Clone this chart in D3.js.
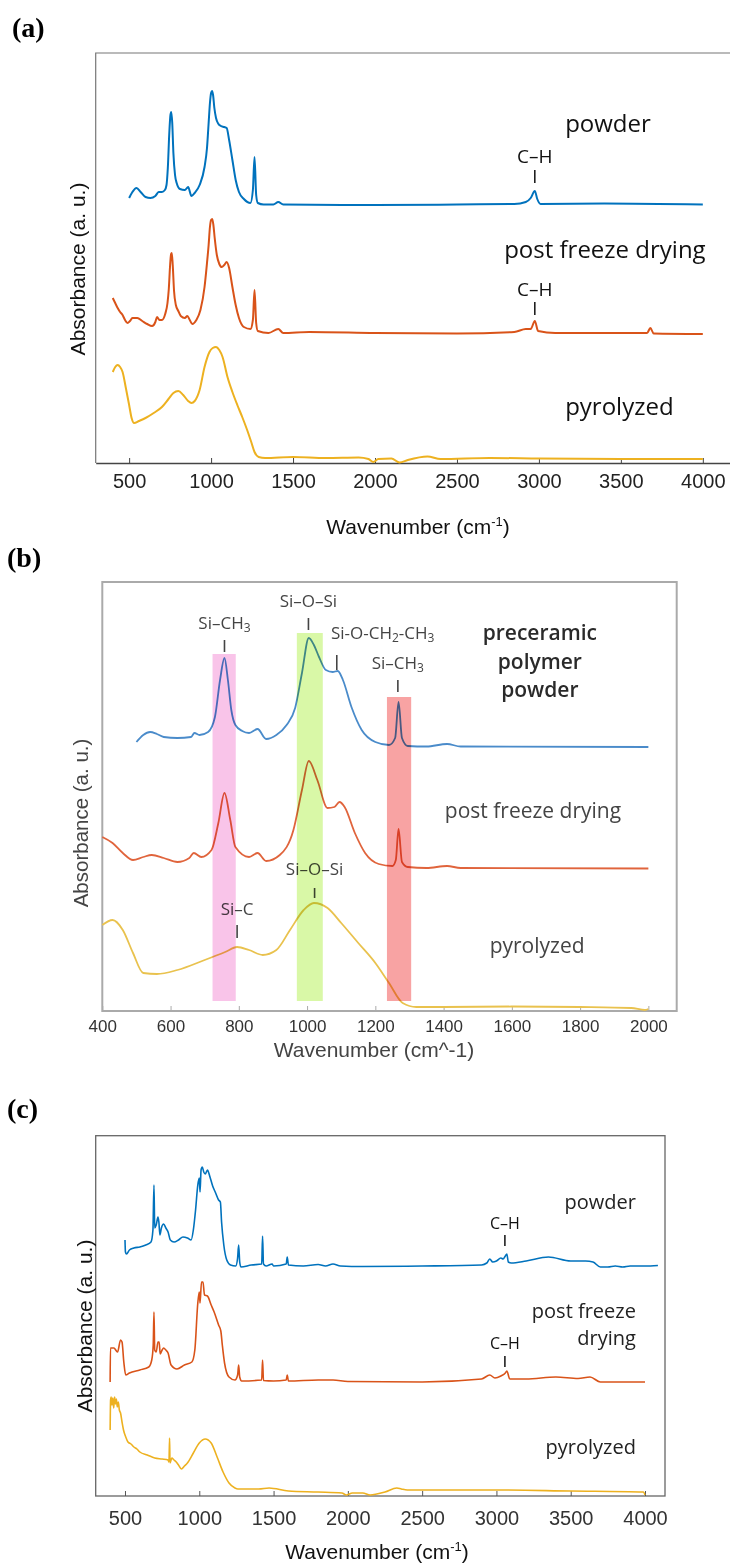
<!DOCTYPE html>
<html>
<head>
<meta charset="utf-8">
<script src="https://cdn.jsdelivr.net/npm/d3@7"></script>
<style>
  html, body { margin: 0; padding: 0; background: #fff; }
  svg { display: block; }
</style>
</head>
<body>
<div id="chart"></div>
<script>
// ===================== DATA (wavenumber cm-1, stacked absorbance a.u.) =====================

// ---- panel (a) ----
var aTicks = [500, 1000, 1500, 2000, 2500, 3000, 3500, 4000];
var aPowder = [[500,2.65],[520,2.71],[545,2.75],[570,2.71],[600,2.66],[630,2.65],[660,2.67],[680,2.71],[700,2.71],[718,2.73],
  [728,2.78],[736,2.95],[745,3.30],[752,3.48],[757,3.51],[763,3.40],[770,3.10],[780,2.88],[790,2.80],[810,2.74],[840,2.73],
  [860,2.76],[880,2.67],[900,2.70],[930,2.78],[960,2.96],[975,3.15],[985,3.40],[993,3.60],[1000,3.70],[1006,3.72],[1012,3.68],
  [1020,3.55],[1030,3.45],[1045,3.39],[1060,3.37],[1080,3.36],[1095,3.35],[1110,3.23],[1130,3.03],[1150,2.83],[1170,2.71],
  [1200,2.64],[1240,2.60],[1255,2.73],[1265,3.06],[1275,2.68],[1285,2.60],[1320,2.585],[1380,2.585],[1410,2.61],[1440,2.585],
  [2000,2.58],[2500,2.585],[2850,2.59],[2920,2.61],[2950,2.65],[2975,2.72],[2990,2.64],[3010,2.59],[3400,2.595],[4000,2.585]];
var aFreeze = [[400,1.65],[415,1.60],[430,1.55],[445,1.51],[460,1.48],[475,1.43],[490,1.40],[505,1.42],[520,1.45],[550,1.45],
  [580,1.42],[610,1.39],[640,1.37],[660,1.41],[670,1.46],[685,1.43],[700,1.43],[720,1.49],[734,1.60],[742,1.74],[750,1.98],
  [756,2.09],[760,2.10],[766,1.98],[774,1.72],[785,1.58],[800,1.52],[815,1.47],[840,1.45],[855,1.47],[870,1.43],[885,1.39],
  [910,1.43],[935,1.53],[960,1.76],[975,2.00],[985,2.18],[993,2.36],[1000,2.43],[1007,2.44],[1014,2.38],[1022,2.25],
  [1035,2.08],[1050,1.99],[1065,1.96],[1080,1.98],[1095,2.01],[1110,1.95],[1130,1.76],[1150,1.58],[1170,1.45],[1200,1.36],
  [1240,1.34],[1255,1.43],[1265,1.73],[1275,1.40],[1285,1.32],[1350,1.30],[1410,1.34],[1440,1.30],[1600,1.31],[2000,1.30],
  [2500,1.295],[2850,1.31],[2920,1.34],[2950,1.34],[2975,1.42],[2995,1.32],[3100,1.30],[3660,1.30],[3680,1.35],[3700,1.295],
  [4000,1.29]];
var aPyro = [[400,0.91],[415,0.96],[430,0.98],[445,0.96],[460,0.91],[480,0.75],[500,0.58],[515,0.45],[530,0.40],[560,0.42],
  [600,0.45],[650,0.50],[700,0.56],[740,0.64],[770,0.70],[800,0.72],[830,0.68],[860,0.62],[880,0.60],[900,0.62],[930,0.73],
  [960,0.96],[990,1.11],[1010,1.15],[1030,1.16],[1050,1.13],[1070,1.06],[1100,0.86],[1130,0.71],[1160,0.58],[1190,0.46],
  [1220,0.33],[1245,0.21],[1265,0.11],[1290,0.06],[1330,0.05],[1500,0.06],[1700,0.05],[1900,0.055],[1960,0.04],[1990,0.01],
  [2020,0.04],[2100,0.045],[2150,0.005],[2200,0.03],[2320,0.065],[2400,0.04],[2700,0.05],[3000,0.045],[3500,0.04],[4000,0.04]];

// ---- panel (b) ----
var bTicks = [400, 600, 800, 1000, 1200, 1400, 1600, 1800, 2000];
var bPowder = [[500,2.69],[520,2.76],[540,2.79],[560,2.77],[580,2.74],[620,2.73],[660,2.74],[670,2.78],[685,2.76],[710,2.79],
  [730,2.94],[745,3.31],[758,3.53],[768,3.31],[778,3.01],[790,2.86],[810,2.80],[830,2.78],[855,2.82],[880,2.72],[910,2.76],
  [940,2.86],[965,3.03],[985,3.38],[1005,3.73],[1020,3.66],[1035,3.54],[1055,3.41],[1075,3.39],[1090,3.40],[1105,3.31],
  [1130,3.04],[1160,2.81],[1200,2.69],[1240,2.66],[1258,2.73],[1268,3.09],[1278,2.73],[1295,2.65],[1350,2.645],[1410,2.67],
  [1450,2.645],[2000,2.64]];
var bFreeze = [[400,1.74],[430,1.68],[460,1.58],[490,1.51],[520,1.54],[545,1.56],[580,1.53],[620,1.49],[655,1.53],[668,1.58],
  [690,1.54],[720,1.61],[740,1.88],[758,2.18],[775,1.91],[790,1.64],[830,1.54],[855,1.58],[880,1.50],[920,1.56],[960,1.81],
  [985,2.21],[1005,2.50],[1030,2.31],[1060,2.03],[1080,2.04],[1095,2.09],[1110,2.04],[1140,1.78],[1170,1.58],[1210,1.47],
  [1250,1.45],[1260,1.51],[1268,1.82],[1278,1.49],[1295,1.44],[1350,1.43],[1410,1.45],[1450,1.43],[2000,1.425]];
var bPyro = [[400,0.86],[430,0.91],[460,0.81],[490,0.58],[520,0.38],[560,0.37],[620,0.41],[700,0.51],[760,0.59],[795,0.64],
  [830,0.61],[870,0.56],[910,0.61],[950,0.81],[990,1.01],[1020,1.08],[1060,1.03],[1100,0.88],[1150,0.68],[1200,0.48],
  [1240,0.28],[1280,0.08],[1320,0.04],[1400,0.04],[1600,0.045],[1800,0.04],[1950,0.03],[1990,0.01],[2000,0.02]];
// highlighted bands: [from, to, top, colour]
var bBands = [[723, 791, 3.57, "#f9c4e9"], [970, 1046, 3.78, "#d9f8a7"], [1234, 1305, 3.14, "#f8a3a3"]];

// ---- panel (c) ----
var cTicks = [500, 1000, 1500, 2000, 2500, 3000, 3500, 4000];
var cPowder = [[500,2.56],[503,2.44],[510,2.42],[530,2.46],[560,2.48],[600,2.49],[640,2.51],[675,2.54],[688,2.66],[695,3.11],
  [700,2.68],[710,2.71],[722,2.79],[728,2.74],[735,2.61],[745,2.68],[760,2.72],[775,2.68],[790,2.64],[805,2.56],[830,2.54],
  [860,2.56],[890,2.59],[920,2.58],[945,2.56],[960,2.66],[975,2.86],[990,3.11],[1000,3.18],[1005,3.04],[1012,3.26],
  [1020,3.29],[1030,3.24],[1040,3.22],[1055,3.26],[1070,3.20],[1090,3.10],[1110,3.03],[1130,2.96],[1142,2.94],[1150,2.74],
  [1165,2.51],[1185,2.36],[1210,2.31],[1245,2.30],[1258,2.38],[1265,2.51],[1272,2.34],[1280,2.29],[1350,2.31],[1420,2.32],
  [1426,2.60],[1432,2.32],[1450,2.30],[1490,2.32],[1500,2.30],[1585,2.32],[1592,2.39],[1600,2.31],[1700,2.30],[1800,2.315],
  [1850,2.30],[1900,2.32],[1950,2.30],[2100,2.295],[2500,2.30],[2900,2.31],[2935,2.33],[2955,2.37],[2975,2.34],[3000,2.35],
  [3030,2.38],[3045,2.37],[3060,2.40],[3070,2.42],[3080,2.34],[3100,2.33],[3200,2.35],[3350,2.39],[3500,2.35],[3600,2.35],
  [3650,2.34],[3700,2.29],[3750,2.29],[3800,2.30],[3850,2.29],[3900,2.30],[4000,2.30],[4087,2.305]];
var cFreeze = [[400,1.14],[402,1.48],[425,1.48],[450,1.44],[470,1.56],[480,1.54],[492,1.34],[505,1.21],[530,1.23],[600,1.26],
  [660,1.29],[680,1.36],[690,1.51],[695,1.84],[700,1.46],[710,1.44],[722,1.54],[730,1.54],[737,1.42],[750,1.46],[760,1.48],
  [775,1.46],[790,1.43],[810,1.31],[850,1.27],[900,1.31],[950,1.34],[970,1.46],[990,1.93],[1000,2.04],[1005,1.93],
  [1015,2.14],[1025,2.14],[1035,2.01],[1055,2.00],[1080,1.91],[1100,1.84],[1130,1.71],[1145,1.65],[1155,1.51],[1170,1.33],
  [1200,1.19],[1240,1.16],[1258,1.21],[1265,1.31],[1272,1.19],[1285,1.15],[1420,1.16],[1426,1.36],[1432,1.155],[1500,1.15],
  [1585,1.16],[1592,1.21],[1600,1.15],[1800,1.16],[1900,1.16],[2000,1.145],[2500,1.14],[2900,1.17],[2955,1.21],[2990,1.18],
  [3030,1.20],[3060,1.23],[3070,1.25],[3090,1.17],[3200,1.17],[3400,1.19],[3550,1.175],[3630,1.19],[3700,1.14],[4000,1.14]];
var cPyro = [[400,0.66],[403,0.96],[407,0.99],[412,0.91],[418,0.98],[424,0.88],[430,0.99],[436,0.92],[442,0.97],[448,0.89],
  [455,0.94],[462,0.86],[470,0.83],[480,0.74],[490,0.66],[505,0.59],[520,0.54],[540,0.52],[560,0.49],[580,0.47],[600,0.44],
  [650,0.41],[700,0.38],[750,0.37],[790,0.36],[796,0.34],[800,0.58],[803,0.33],[815,0.38],[830,0.36],[845,0.34],[860,0.31],
  [880,0.27],[900,0.30],[920,0.33],[960,0.43],[1000,0.53],[1040,0.57],[1080,0.53],[1120,0.39],[1160,0.24],[1200,0.13],
  [1240,0.08],[1260,0.07],[1400,0.07],[1470,0.08],[1600,0.05],[1800,0.04],[1960,0.03],[1990,0.01],[2030,0.03],[2100,0.03],
  [2150,0.01],[2250,0.04],[2330,0.08],[2360,0.07],[2400,0.06],[3000,0.06],[3500,0.05],[3990,0.04],[4000,0.01]];

// ===================== LAYOUT / STYLE =====================

var svg = d3.select("#chart").append("svg")
    .attr("width", 730)
    .attr("height", 1564);

var panels = [
  {
    letter: "(a)", letterX: 12, letterY: 37,
    xDomain: [296, 4200], xRange: [95.7, 735.6],
    yDomain: [0, 4.1], yRange: [463, 53],
    ticks: aTicks, tickFont: 20, tickPad: 11, tickColor: "#222",
    frame: "open", frameColor: "#777", axisColor: "#444",
    xLabel: ["Wavenumber (cm", "-1", ")"], xLabelX: 418, xLabelY: 534, xLabelSize: 21,
    yLabelX: 77, yLabelY: 269, yLabelSize: 21, textColor: "#111",
    series: [[aPowder, "#0072BD"], [aFreeze, "#D95319"], [aPyro, "#EDB120"]], lineWidth: 2,
    labels: [["powder", 3160, 3.41, "start"], ["post freeze drying", 2788, 2.15, "start"], ["pyrolyzed", 3160, 0.58, "start"]],
    labelSize: 24, labelColor: "#111",
    notes: [["C\u2013H", 2975, 3.07, 2.93, 2.80], ["C\u2013H", 2975, 1.74, 1.61, 1.48]],
    noteSize: 19
  },
  {
    letter: "(b)", letterX: 7, letterY: 567,
    xDomain: [400, 2083], xRange: [102.3, 676.7],
    yDomain: [0, 4.29], yRange: [1011, 582],
    ticks: bTicks, tickFont: 17, tickPad: 9, tickColor: "#333",
    frame: "box", frameColor: "#aaa", axisColor: "#aaa",
    xLabel: ["Wavenumber (cm^-1)"], xLabelX: 374, xLabelY: 1057, xLabelSize: 21,
    yLabelX: 80, yLabelY: 823, yLabelSize: 20.5, textColor: "#444",
    series: [[bPowder, "#4a8bca"], [bFreeze, "#e0643c"], [bPyro, "#e9c24e"]], lineWidth: 1.8,
    labels: [["preceramic", 1682, 3.79, "middle", true], ["polymer", 1682, 3.50, "middle", true], ["powder", 1682, 3.22, "middle", true],
             ["post freeze drying", 1662, 2.01, "middle"], ["pyrolyzed", 1674, 0.66, "middle"]],
    labelSize: 21, labelColor: "#444",
    bands: bBands
  },
  {
    letter: "(c)", letterX: 7, letterY: 1118,
    xDomain: [302.8, 4134.6], xRange: [95.7, 665],
    yDomain: [0, 3.603], yRange: [1496, 1135.7],
    ticks: cTicks, tickFont: 20, tickPad: 15, tickColor: "#333",
    frame: "box", frameColor: "#666", axisColor: "#555",
    xLabel: ["Wavenumber (cm", "-1", ")"], xLabelX: 377, xLabelY: 1559, xLabelSize: 21,
    yLabelX: 84, yLabelY: 1326, yLabelSize: 21, textColor: "#111",
    series: [[cPowder, "#0072BD"], [cFreeze, "#D95319"], [cPyro, "#EDB120"]], lineWidth: 1.6,
    labels: [["powder", 3939, 2.95, "end"], ["post freeze", 3939, 1.86, "end"], ["drying", 3939, 1.59, "end"], ["pyrolyzed", 3939, 0.50, "end"]],
    labelSize: 20, labelColor: "#222",
    notes: [["C\u2013H", 3057, 2.73, 2.61, 2.50], ["C\u2013H", 3057, 1.53, 1.40, 1.29]],
    noteSize: 16
  }
];

// chemistry notes for panel (b): [parts, tick wavenumber, textY, tickTop, tickBottom, anchor, text wavenumber]
var bNotes = [
  [[["Si\u2013CH"], ["3", true]], 758, 3.84, 3.71, 3.59, "middle", 758],
  [[["Si\u2013O\u2013Si"]], 1004, 4.06, 3.93, 3.81, "middle", 1004],
  [[["Si-O-CH"], ["2", true], ["-CH"], ["3", true]], 1087, 3.74, 3.56, 3.41, "start", 1070],
  [[["Si\u2013CH"], ["3", true]], 1266, 3.44, 3.31, 3.19, "middle", 1266],
  [[["Si\u2013O\u2013Si"]], 1022, 1.38, 1.23, 1.13, "middle", 1022],
  [[["Si\u2013C"]], 795, 0.98, 0.86, 0.73, "middle", 795]
];

var sansFont = "'Liberation Sans', Arial, sans-serif";
var labelFont = "'Open Sans', sans-serif";

// ===================== RENDER =====================

panels.forEach(drawPanel);

function drawPanel(p) {
  var x = d3.scaleLinear().domain(p.xDomain).range(p.xRange);
  var y = d3.scaleLinear().domain(p.yDomain).range(p.yRange);
  var g = svg.append("g");

  // panel letter
  g.append("text")
    .attr("x", p.letterX)
    .attr("y", p.letterY)
    .style("font-family", "'Liberation Serif', 'Times New Roman', serif")
    .style("font-weight", "bold")
    .style("font-size", "28px")
    .text(p.letter);

  // frame
  var x0 = p.xRange[0], x1 = p.xRange[1], yb = p.yRange[0], yt = p.yRange[1];
  if (p.frame == "box") {
    g.append("rect")
      .attr("x", x0).attr("y", yt)
      .attr("width", x1 - x0).attr("height", yb - yt)
      .attr("fill", "none")
      .attr("stroke", p.frameColor)
      .attr("stroke-width", p.frameColor == "#aaa" ? 2 : 1.3);
  } else {
    g.append("path")
      .attr("d", "M" + x1 + "," + yt + "H" + x0 + "V" + yb)
      .attr("fill", "none")
      .attr("stroke", p.frameColor)
      .attr("stroke-width", 1.2);
  }

  // bottom axis, inward ticks
  var axis = d3.axisBottom(x)
    .tickValues(p.ticks)
    .tickFormat(d3.format("d"))
    .tickSize(-5)
    .tickSizeOuter(0)
    .tickPadding(p.tickPad);

  var ax = g.append("g")
    .attr("transform", "translate(0," + yb + ")")
    .call(axis);
  ax.select(".domain").attr("stroke", p.axisColor).attr("stroke-width", p.frame == "box" ? 0 : 1.5);
  ax.selectAll(".tick line").attr("stroke", p.axisColor).attr("stroke-width", 1);
  ax.selectAll(".tick text")
    .style("font-family", sansFont)
    .style("font-size", p.tickFont + "px")
    .attr("fill", p.tickColor);

  // x label
  var xl = g.append("text")
    .attr("x", p.xLabelX)
    .attr("y", p.xLabelY)
    .attr("text-anchor", "middle")
    .attr("fill", p.textColor)
    .style("font-family", sansFont)
    .style("font-size", p.xLabelSize + "px");
  xl.append("tspan").text(p.xLabel[0]);
  if (p.xLabel.length > 1) {
    xl.append("tspan").attr("dy", -8).style("font-size", "13px").text(p.xLabel[1]);
    xl.append("tspan").attr("dy", 8).text(p.xLabel[2]);
  }

  // y label
  g.append("text")
    .attr("transform", "translate(" + p.yLabelX + "," + p.yLabelY + ") rotate(-90)")
    .attr("text-anchor", "middle")
    .attr("dominant-baseline", "central")
    .attr("fill", p.textColor)
    .style("font-family", sansFont)
    .style("font-size", p.yLabelSize + "px")
    .text("Absorbance (a. u.)");

  // spectra
  var line = d3.line()
    .x(function (d) { return x(d[0]); })
    .y(function (d) { return y(d[1]); })
    .curve(d3.curveMonotoneX);

  g.selectAll("path.spectrum")
    .data(p.series)
    .enter()
    .append("path")
    .attr("class", "spectrum")
    .attr("d", function (d) { return line(d[0]); })
    .attr("fill", "none")
    .attr("stroke", function (d) { return d[1]; })
    .attr("stroke-width", p.lineWidth)
    .attr("stroke-linejoin", "round");

  // curve labels
  g.selectAll("text.curveLabel")
    .data(p.labels)
    .enter()
    .append("text")
    .attr("class", "curveLabel")
    .attr("x", function (d) { return x(d[1]); })
    .attr("y", function (d) { return y(d[2]); })
    .attr("text-anchor", function (d) { return d[3]; })
    .attr("dominant-baseline", "central")
    .attr("fill", function (d) { return d[4] ? "#2a2a2a" : p.labelColor; })
    .style("font-family", labelFont)
    .style("font-weight", function (d) { return d[4] ? 600 : 400; })
    .style("font-size", p.labelSize + "px")
    .text(function (d) { return d[0]; });

  // C-H notes
  if (p.notes) {
    p.notes.forEach(function (n) {
      g.append("text")
        .attr("x", x(n[1]))
        .attr("y", y(n[2]))
        .attr("text-anchor", "middle")
        .attr("dominant-baseline", "central")
        .attr("fill", "#111")
        .style("font-family", labelFont)
        .style("font-size", p.noteSize + "px")
        .text(n[0]);
      g.append("line")
        .attr("x1", x(n[1])).attr("x2", x(n[1]))
        .attr("y1", y(n[3])).attr("y2", y(n[4]))
        .attr("stroke", "#111")
        .attr("stroke-width", 1.5);
    });
  }

  // chemistry notes + highlight bands (panel b)
  if (p.bands) {
    bNotes.forEach(function (n) {
      var t = g.append("text")
        .attr("x", x(n[6]))
        .attr("y", y(n[2]))
        .attr("text-anchor", n[5])
        .attr("dominant-baseline", "central")
        .attr("fill", "#444")
        .style("font-family", labelFont)
        .style("font-size", "17px");
      n[0].forEach(function (part) {
        if (part[1]) {
          t.append("tspan").attr("dy", 5).style("font-size", "12px").text(part[0]);
        } else {
          t.append("tspan").attr("dy", t.selectAll("tspan").size() > 0 ? -5 : 0).text(part[0]);
        }
      });
      g.append("line")
        .attr("x1", x(n[1])).attr("x2", x(n[1]))
        .attr("y1", y(n[3])).attr("y2", y(n[4]))
        .attr("stroke", "#444")
        .attr("stroke-width", 1.6);
    });

    // bands drawn last and multiplied so lines and text show through
    g.selectAll("rect.band")
      .data(p.bands)
      .enter()
      .append("rect")
      .attr("class", "band")
      .attr("x", function (d) { return x(d[0]); })
      .attr("width", function (d) { return x(d[1]) - x(d[0]); })
      .attr("y", function (d) { return y(d[2]); })
      .attr("height", function (d) { return y(0.1) - y(d[2]); })
      .attr("fill", function (d) { return d[3]; })
      .style("mix-blend-mode", "multiply");
  }
}
</script>
</body>
</html>
